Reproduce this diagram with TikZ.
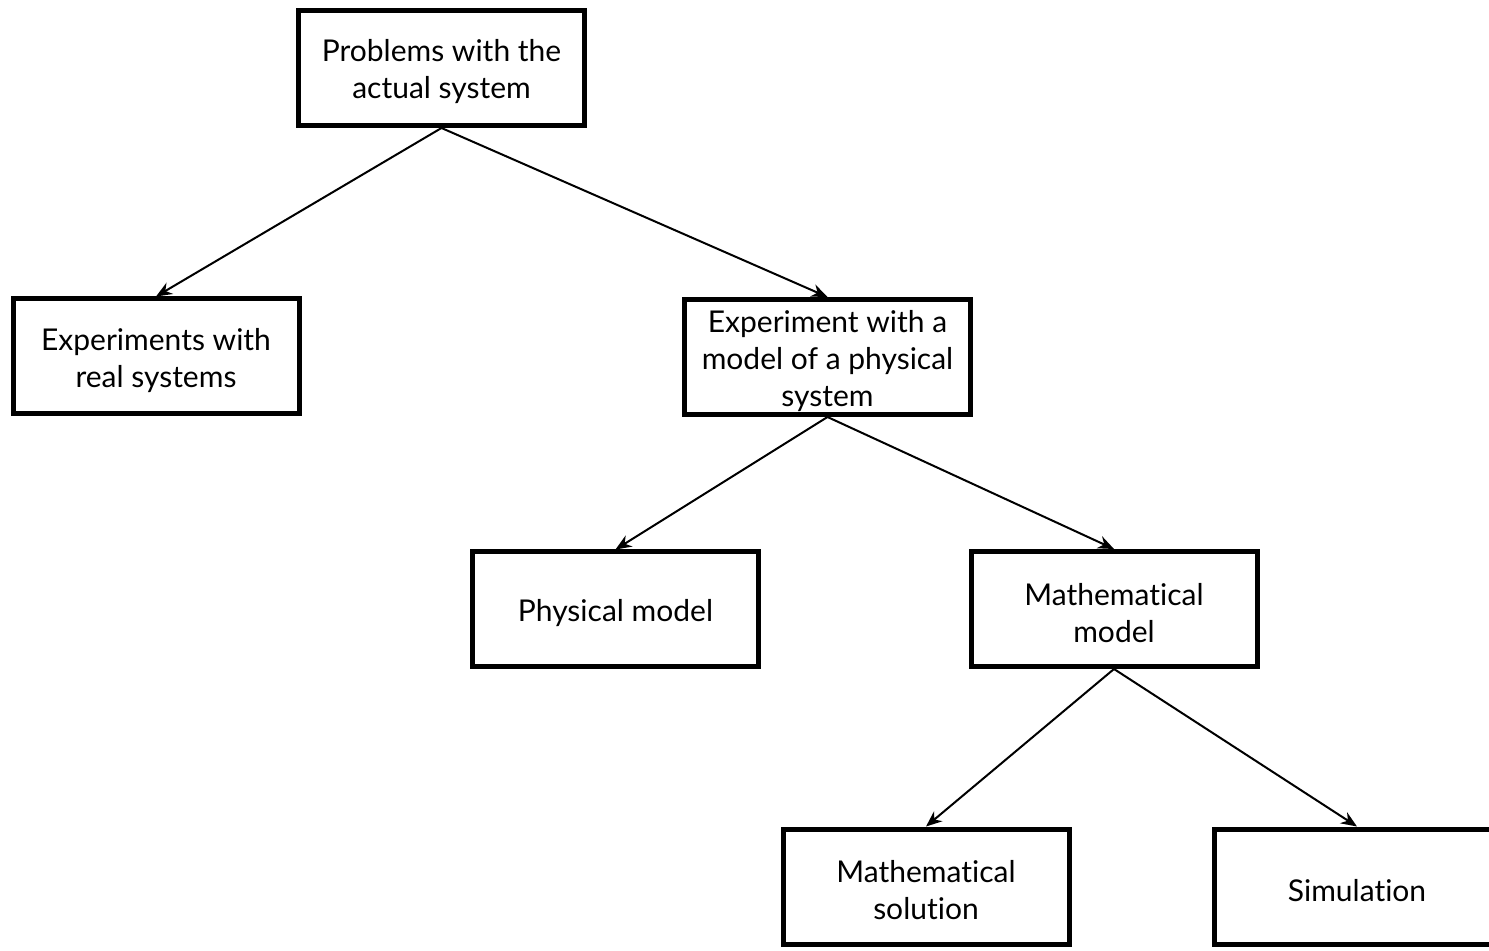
\documentclass[tikz,border=0pt]{standalone}
\usepackage{fontspec}
\setmainfont[Ligatures=NoCommon]{Lato}
\usetikzlibrary{arrows.meta}
\begin{document}
\begin{tikzpicture}[x=0.5pt,y=-0.5pt,
  txt/.style={align=center, inner sep=0pt, yshift=-2pt, font=\fontsize{15}{18.5}\selectfont},
  box/.style={draw, line width=2.5pt, rectangle, minimum width=143pt, minimum height=57.5pt,
    inner sep=0pt, label={[txt]center:#1}},
  link/.style={line width=1pt, -{Stealth[length=8pt,width=6.5pt]}}]
\useasboundingbox (0,0) rectangle (1489,951);
\node[box={Problems with the\\actual system}]               (top)  at (441.5,68)   {};
\node[box={Experiments with\\real systems}]                 (real) at (156,356.5)  {};
\node[box={Experiment with a\\model of a physical\\system}] (mod)  at (827.5,357)  {};
\node[box={Physical model}]                                 (phys) at (615.5,609.5){};
\node[box={Mathematical\\model}]                            (math) at (1114,609)   {};
\node[box={Mathematical\\solution}]                         (sol)  at (926,886.5)  {};
\node[box={Simulation}]                                     (sim)  at (1357,886.5) {};
\draw[link] (top.south) -- (real.north);
\draw[link] (top.south) -- (mod.north);
\draw[link] (mod.south) -- (phys.north);
\draw[link] (mod.south) -- (math.north);
\draw[link] (math.south) -- (sol.north);
\draw[link] (math.south) -- (sim.north);
\end{tikzpicture}
\end{document}
